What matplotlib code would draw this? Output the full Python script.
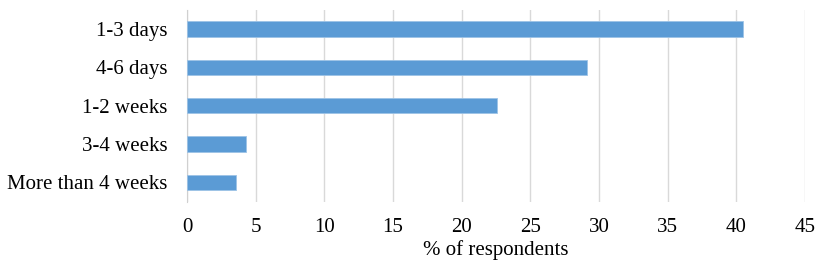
import matplotlib
matplotlib.use("Agg")
import matplotlib.pyplot as plt

categories = ["1-3 days", "4-6 days", "1-2 weeks", "3-4 weeks", "More than 4 weeks"]
values = [40.5, 29.1, 22.6, 4.3, 3.6]
xticks = [0, 5, 10, 15, 20, 25, 30, 35, 40, 45]

plt.rcParams['font.family'] = ['Liberation Serif', 'DejaVu Serif']

fig = plt.figure(figsize=(8.3, 2.65), dpi=100)
ax = fig.add_axes([187/830, 1 - 201.5/265, (805-187)/830, (201.5-10)/265])

y = list(range(len(categories)))
ax.barh(y, values, height=0.4, color="#5B9BD5", edgecolor="#9DC3E6", linewidth=0.6, zorder=3)
ax.set_yticks(y)
ax.set_yticklabels(categories, fontsize=15)
ax.set_ylim(len(categories) - 0.5, -0.5)
ax.set_xlim(0, 45)
ax.set_xticks(xticks)
ax.set_xticklabels([str(t) for t in xticks], fontsize=15)
ax.set_xlabel("% of respondents", fontsize=15, labelpad=2)
ax.grid(axis="x", color="#D9D9D9", linewidth=1, zorder=0)
for s in ["top", "right", "bottom"]:
    ax.spines[s].set_visible(False)
ax.spines["left"].set_color("#D0D0D0")
ax.tick_params(axis="x", length=0, pad=12)
ax.tick_params(axis="y", length=0, pad=14)

fig.savefig("out.png", dpi=100)
